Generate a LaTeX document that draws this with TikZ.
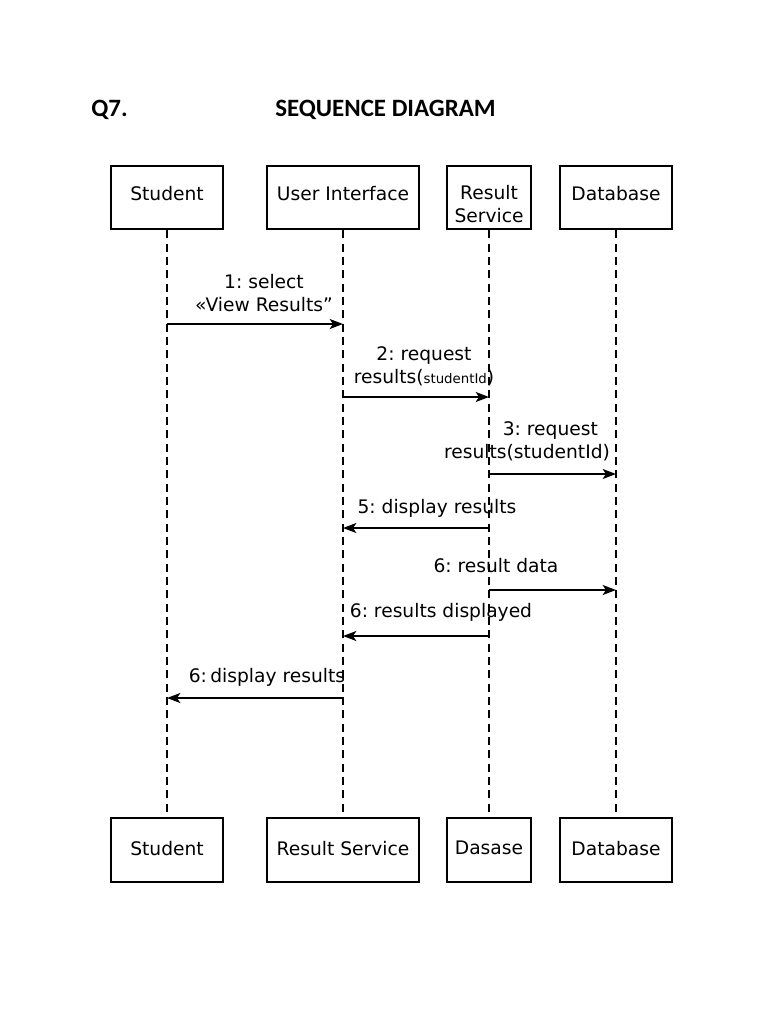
\documentclass[tikz,border=0pt]{standalone}
\usepackage{fontspec}
\setmainfont{DejaVu Sans}
\newfontfamily\titrefont{Carlito}
\usetikzlibrary{arrows.meta}
\frenchspacing
\tikzset{
	objet/.style={draw,line width=1.5pt,inner sep=2pt,font=\fontsize{14}{17}\selectfont},
	haut/.style={minimum height=47.5pt,text depth=6pt},
	bas/.style={minimum height=48pt,text depth=3pt},
	lifeline/.style={line width=1.4pt,dash pattern=on 6pt off 4pt},
	message/.style={line width=1.4pt,-{Stealth[length=10pt,width=7.5pt,inset=2.5pt]}},
	etiquette/.style={inner sep=0pt,font=\fontsize{14}{17.5}\selectfont},
	titre/.style={inner sep=0pt,font=\titrefont\bfseries\fontsize{18.7}{22}\selectfont}
}
\newcommand{\Message}[4]{\draw[message,#4] (#1 |- #3) -- (#2 |- #3)}

\begin{document}
\begin{tikzpicture}[x=0.75pt,y=-0.75pt]
	\fill[white] (0,0) rectangle (768,1024); % page, fixes the size
	\def\yHaut{197.5};
	\def\yBas{850};
	
	%Titre
	\node[titre,anchor=base west] (q7) at (91,117) {Q7.};
	\node[titre,anchor=base west] (titre) at (275,117) {SEQUENCE DIAGRAM};
	
	%Objets en haut
	\node[objet,haut,minimum width=84.5pt] (stuTop) at (167,\yHaut) {Student};
	\node[objet,haut,minimum width=113.5pt] (uiTop) at (343,\yHaut) {User Interface};
	\node[objet,align=center,minimum height=47.5pt,minimum width=63.5pt] (rsTop) at (489,\yHaut) {\rule{0pt}{20pt}Result\\Service};
	\node[objet,haut,minimum width=84pt] (dbTop) at (616,\yHaut) {Database};
	
	%Objets en bas
	\node[objet,bas,minimum width=84.5pt] (stuBot) at (167,\yBas) {Student};
	\node[objet,bas,minimum width=113.5pt] (rsBot) at (343,\yBas) {Result Service};
	\node[objet,bas,minimum width=63.5pt] (dasBot) at (489,\yBas) {Dasase};
	\node[objet,bas,minimum width=84pt] (dbBot) at (616,\yBas) {Database};
	
	%Lignes de vie
	\foreach \haut/\bas in {stuTop/stuBot,uiTop/rsBot,rsTop/dasBot,dbTop/dbBot}{
		\draw[lifeline] (\haut) -- (\bas);
	}
	
	%Hauteurs des messages
	\coordinate (m1) at (0,324);
	\coordinate (m2) at (0,397);
	\coordinate (m3) at (0,474);
	\coordinate (m4) at (0,528);
	\coordinate (m5) at (0,590);
	\coordinate (m6) at (0,636);
	\coordinate (m7) at (0,698);
	
	%Messages
	\Message{stuTop}{uiTop}{m1}{};
	\Message{uiTop}{rsTop}{m2}{};
	\Message{rsTop}{dbTop}{m3}{line width=1pt};
	\Message{rsTop}{uiTop}{m4}{};
	\Message{rsTop}{dbTop}{m5}{};
	\Message{rsTop}{uiTop}{m6}{};
	\Message{uiTop}{stuTop}{m7}{};
	
	%Etiquettes
	\node[etiquette,align=center] (l1) at (264,293) {1: select\\«View Results”};
	\node[etiquette,align=center] (l2) at (424,366) {2: request\\results({\fontsize{10}{12}\selectfont studentId})};
	\node[etiquette,align=right] (l3) at (527,441) {3: request\hspace*{9pt}\\results(studentId)};
	\node[etiquette,anchor=base] (l4) at (437,513) {5: display results};
	\node[etiquette,anchor=base] (l5) at (496,572) {6: result data};
	\node[etiquette,anchor=base] (l6) at (441,617) {6: results displayed};
	\node[etiquette,anchor=base] (l7) at (267,682) {6:\hspace{2.5pt}display results};
	
\end{tikzpicture}
\end{document}
